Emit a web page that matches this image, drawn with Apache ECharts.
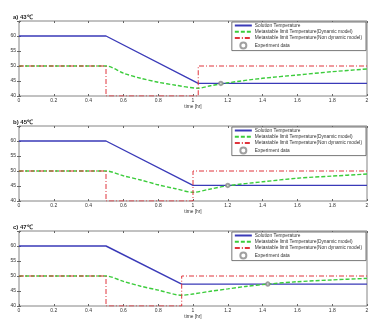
<!DOCTYPE html>
<html>
<head>
<meta charset="utf-8">
<script src="https://cdn.jsdelivr.net/npm/echarts@6/dist/echarts.min.js"></script>
<style>
  html, body { margin: 0; padding: 0; background: #fff; }
  #chart { width: 374px; height: 322px; }
</style>
</head>
<body>
<div id="chart"></div>
<script>
// panel titles
const panelTitles = ["a) 43\u2103", "b) 45\u2103", "c) 47\u2103"]
const seriesNames = [
  "Solution Temperature",
  "Metastable limit Temperature(Dynamic model)",
  "Metastable limit Temperature(Non dynamic model)",
  "Experiment data"
]

// a) 43 C
const solTimeA = [0, 0.5, 1.03, 2]
const solTempA = [60, 60, 44.2, 44.2]
const dynTimeA = [0, 0.5, 0.6, 0.7, 0.8, 0.9, 1.03, 1.1, 1.2, 1.4, 1.6, 1.8, 2]
const dynTempA = [50, 50, 47.6, 45.9, 44.6, 43.6, 42.6, 43.4, 44.4, 45.9, 47.0, 48.1, 49.0]
const nonTimeA = [0, 0.5, 0.5, 1.03, 1.03, 2]
const nonTempA = [50, 50, 40, 40, 50, 50]
const expTimeA = [1.16]
const expTempA = [44.2]

// b) 45 C
const solTimeB = [0, 0.5, 1.0, 2]
const solTempB = [60, 60, 45.2, 45.2]
const dynTimeB = [0, 0.5, 0.6, 0.7, 0.8, 0.9, 1.0, 1.1, 1.2, 1.4, 1.6, 1.8, 2]
const dynTempB = [50, 50, 48.4, 47.0, 45.4, 44.1, 42.9, 44.0, 45.1, 46.4, 47.6, 48.3, 49.0]
const nonTimeB = [0, 0.5, 0.5, 1.0, 1.0, 2]
const nonTempB = [50, 50, 40, 40, 50, 50]
const expTimeB = [1.2]
const expTempB = [45.2]

// c) 47 C
const solTimeC = [0, 0.5, 0.935, 2]
const solTempC = [60, 60, 47.3, 47.3]
const dynTimeC = [0, 0.5, 0.6, 0.7, 0.8, 0.935, 1.0, 1.1, 1.2, 1.3, 1.43, 1.6, 1.8, 2]
const dynTempC = [50, 50, 48.2, 46.6, 45.3, 43.6, 44.0, 44.9, 45.7, 46.5, 47.3, 48.1, 48.7, 49.2]
const nonTimeC = [0, 0.5, 0.5, 0.935, 0.935, 2]
const nonTempC = [50, 50, 40, 40, 50, 50]
const expTimeC = [1.43]
const expTempC = [47.3]

const panels = [
  { sol: [solTimeA, solTempA], dyn: [dynTimeA, dynTempA], non: [nonTimeA, nonTempA], exp: [expTimeA, expTempA] },
  { sol: [solTimeB, solTempB], dyn: [dynTimeB, dynTempB], non: [nonTimeB, nonTempB], exp: [expTimeB, expTempB] },
  { sol: [solTimeC, solTempC], dyn: [dynTimeC, dynTempC], non: [nonTimeC, nonTempC], exp: [expTimeC, expTempC] }
]

const zip = ([xs, ys]) => xs.map((x, i) => [x, ys[i]])

const font = "Liberation Sans, Arial, sans-serif"
const gridTops = [21, 126, 231]
const plotH = 75

const grids = gridTops.map(t => ({
  left: 19, right: 7, top: t, height: plotH, outerBoundsMode: "none",
  show: true, borderColor: "#666", borderWidth: 0.8, backgroundColor: "#fff"
}))

const xAxes = []
const yAxes = []
gridTops.forEach((t, i) => {
  xAxes.push({
    gridIndex: i, type: "value", min: 0, max: 2, interval: 0.2,
    name: "time [hr]", nameLocation: "middle", nameGap: 8,
    nameTextStyle: { fontSize: 4.8, color: "#333", fontFamily: font },
    axisLine: { show: false },
    axisTick: { inside: true, length: 2, lineStyle: { color: "#666" } },
    axisLabel: { fontSize: 5, color: "#333", margin: 2, fontFamily: font },
    splitLine: { show: false }
  })
  xAxes.push({
    gridIndex: i, type: "value", min: 0, max: 2, interval: 0.2, position: "top",
    axisLine: { show: false },
    axisTick: { inside: true, length: 2, lineStyle: { color: "#666" } },
    axisLabel: { show: false }, splitLine: { show: false }
  })
  yAxes.push({
    gridIndex: i, type: "value", min: 40, max: 65, interval: 5,
    name: "Temperature [\u2103]", nameLocation: "middle", nameGap: 10, nameRotate: 90,
    nameTextStyle: { fontSize: 4.5, color: "#333", fontFamily: font },
    axisLine: { show: false },
    axisTick: { inside: true, length: 2, lineStyle: { color: "#666" } },
    axisLabel: {
      fontSize: 5, color: "#333", margin: 3, fontFamily: font,
      formatter: v => (v === 65 ? "" : String(v))
    },
    splitLine: { show: false }
  })
  yAxes.push({
    gridIndex: i, type: "value", min: 40, max: 65, interval: 5, position: "right",
    axisLine: { show: false },
    axisTick: { inside: true, length: 2, lineStyle: { color: "#666" } },
    axisLabel: { show: false }, splitLine: { show: false }
  })
})

const series = []
panels.forEach((p, i) => {
  const axis = { xAxisIndex: i * 2, yAxisIndex: i * 2 }
  series.push({
    name: seriesNames[0], type: "line", ...axis, symbol: "none",
    data: zip(p.sol), z: 3,
    lineStyle: { color: "#3a3ab8", width: 1.4 }, itemStyle: { color: "#3a3ab8" }
  })
  series.push({
    name: seriesNames[1], type: "line", ...axis, symbol: "none", smooth: 0.3,
    data: zip(p.dyn), z: 4,
    lineStyle: { color: "#3ccc3c", width: 1.4, type: [4, 2] }, itemStyle: { color: "#3ccc3c" }
  })
  series.push({
    name: seriesNames[2], type: "line", ...axis, symbol: "none",
    data: zip(p.non), z: 5,
    lineStyle: { color: "#e0343c", width: 1, type: [5, 2, 1, 2] }, itemStyle: { color: "#e0343c" }
  })
  series.push({
    name: seriesNames[3], type: "scatter", ...axis, symbol: "emptyCircle", symbolSize: 3.5,
    data: zip(p.exp), z: 6,
    itemStyle: { color: "#888", borderColor: "#888", borderWidth: 0.7 }
  })
})

const titles = panelTitles.map((txt, i) => ({
  text: txt, left: 8, top: gridTops[i] - 12,
  textStyle: { fontSize: 6, fontWeight: "bold", color: "#222", fontFamily: font }
}))

const hidden = { opacity: 0, color: "transparent", borderColor: "transparent" }
const legendData = seriesNames.map((n, k) => (k < 3 ? { name: n, itemStyle: hidden } : { name: n }))

const legends = gridTops.map(t => ({
  data: legendData, orient: "vertical", right: 8, top: t + 1,
  itemWidth: 17, itemHeight: 6, itemGap: 1.2, padding: [1, 4, 1, 2],
  selectedMode: false,
  backgroundColor: "#fff", borderColor: "#555", borderWidth: 0.8,
  textStyle: { fontSize: 4.8, color: "#333", fontFamily: font, padding: [0, 0, 0, -2] }
}))

const chart = echarts.init(document.getElementById("chart"))
chart.setOption({
  animation: false,
  backgroundColor: "#fff",
  title: titles,
  legend: legends,
  grid: grids,
  xAxis: xAxes,
  yAxis: yAxes,
  series: series
})
</script>
</body>
</html>
